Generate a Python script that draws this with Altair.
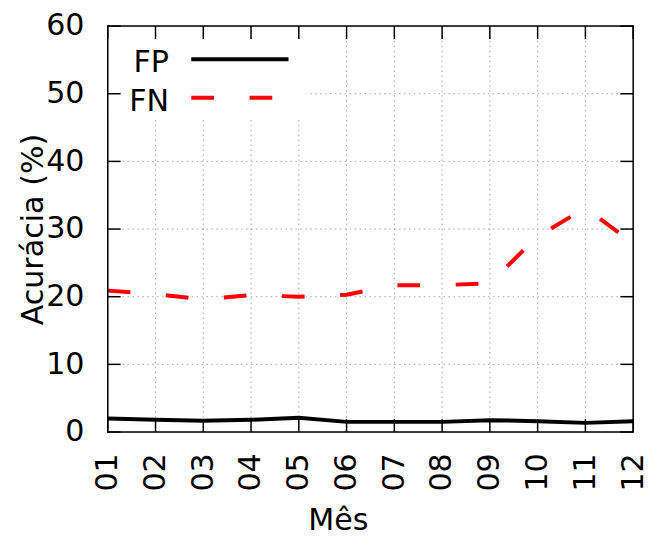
import altair as alt
import pandas as pd

months = ["01", "02", "03", "04", "05", "06", "07", "08", "09", "10", "11", "12"]
series = ["FP", "FN"]
fp_values = [2.0, 1.8, 1.65, 1.8, 2.1, 1.5, 1.5, 1.5, 1.75, 1.6, 1.35, 1.6]
fn_values = [20.9, 20.4, 19.6, 20.25, 20.0, 20.3, 21.7, 21.7, 22.0, 28.9, 33.1, 27.9]
y_ticks = [0, 10, 20, 30, 40, 50, 60]
y_title = "Acurácia (%)"
x_title = "Mês"

W, H = 532, 411
FONT = "DejaVu Sans"
FS = 30.5

fp_df = pd.DataFrame({"month": months, "value": fp_values})
fn_df = pd.DataFrame({"month": months, "value": fn_values})
ytick_df = pd.DataFrame({"value": y_ticks})
ygrid_df = pd.DataFrame({"value": y_ticks[1:-1]})
xtick_df = pd.DataFrame({"month": months})
xgrid_df = pd.DataFrame({"month": months[1:-1]})
fp_leg_df = pd.DataFrame({"series": [series[0]]})
fn_leg_df = pd.DataFrame({"series": [series[1]]})
one_df = pd.DataFrame({"k": [0]})

x_axis = alt.Axis(
    title=x_title, labelAngle=270, labelAlign="right", labelBaseline="middle",
    labelPadding=21, ticks=False, domain=False, grid=False, labelFlush=False,
    labelOverlap=False, labelBound=False, labelFont=FONT, labelFontSize=FS, labelColor="black",
    titleFont=FONT, titleFontSize=FS, titleFontWeight="normal", titleColor="black",
    titleX=233, titleY=99, titleBaseline="alphabetic", titleAlign="center", titleAngle=0,
)
y_axis = alt.Axis(
    title=y_title, values=y_ticks, ticks=False, domain=False, grid=False,
    labelPadding=24, labelFlush=False, labelOverlap=False, labelFont=FONT,
    labelFontSize=FS, labelColor="black", titleFont=FONT, titleFontSize=FS,
    titleFontWeight="normal", titleColor="black", titleAngle=270,
    titleX=-66, titleY=H / 2, titleBaseline="alphabetic", titleAlign="center",
)
x_scale = alt.Scale(type="point", domain=months, padding=0)
y_scale = alt.Scale(domain=[0, 60], nice=False, zero=False)

def xe():
    return alt.X("month:N", scale=x_scale, axis=x_axis, sort=months)

def ye():
    return alt.Y("value:Q", scale=y_scale, axis=y_axis)

grid_style = dict(stroke="#a8a8a8", strokeWidth=1, strokeDash=[1.5, 3.5])

ygrid = alt.Chart(ygrid_df).mark_rule(**grid_style).encode(
    y=ye(), x=alt.value(0), x2=alt.value(W))
xgrid = alt.Chart(xgrid_df).mark_rule(**grid_style).encode(
    x=xe(), y=alt.value(0), y2=alt.value(H))

legend_box = alt.Chart(one_df).mark_rect(fill="white").encode(
    x=alt.value(1), x2=alt.value(201), y=alt.value(14), y2=alt.value(92))

fp_line = alt.Chart(fp_df).mark_line(color="black", strokeWidth=4).encode(x=xe(), y=ye())
fn_line = alt.Chart(fn_df).mark_line(color="#ff0000", strokeWidth=4, strokeDash=[23, 36]).encode(x=xe(), y=ye())

leg_fp_line = alt.Chart(fp_leg_df).mark_rule(color="black", strokeWidth=4).encode(
    x=alt.value(84.6), x2=alt.value(183), y=alt.value(33.6))
leg_fn_line = alt.Chart(fn_leg_df).mark_rule(color="#ff0000", strokeWidth=4, strokeDash=[23, 36]).encode(
    x=alt.value(84.6), x2=alt.value(183), y=alt.value(72.6))
text_style = dict(align="right", baseline="alphabetic", font=FONT, fontSize=FS,
                  fontWeight="normal", color="black")
leg_fp_text = alt.Chart(fp_leg_df).mark_text(**text_style).encode(
    x=alt.value(62), y=alt.value(46), text="series:N")
leg_fn_text = alt.Chart(fn_leg_df).mark_text(**text_style).encode(
    x=alt.value(62), y=alt.value(85.5), text="series:N")

tick_style = dict(color="black", strokeWidth=1.5)
ytick_l = alt.Chart(ytick_df).mark_rule(**tick_style).encode(y=ye(), x=alt.value(0), x2=alt.value(13))
ytick_r = alt.Chart(ytick_df).mark_rule(**tick_style).encode(y=ye(), x=alt.value(W - 13), x2=alt.value(W))
xtick_b = alt.Chart(xtick_df).mark_rule(**tick_style).encode(x=xe(), y=alt.value(H - 13), y2=alt.value(H))
xtick_t = alt.Chart(xtick_df).mark_rule(**tick_style).encode(x=xe(), y=alt.value(0), y2=alt.value(13))

border = alt.Chart(one_df).mark_rect(filled=False, stroke="black", strokeWidth=1.5).encode(
    x=alt.value(0), x2=alt.value(W), y=alt.value(0), y2=alt.value(H))

chart = alt.layer(
    ygrid, xgrid, legend_box, fn_line, fp_line,
    leg_fp_line, leg_fn_line, leg_fp_text, leg_fn_text,
    ytick_l, ytick_r, xtick_b, xtick_t, border,
).properties(
    width=W, height=H,
    padding={"left": 101, "top": 15, "right": 13, "bottom": 104},
    autosize=alt.AutoSizeParams(type="none"),
).configure_view(stroke=None).configure(background="white")

chart.save("out.html", embed_options={"renderer": "svg", "actions": False})
